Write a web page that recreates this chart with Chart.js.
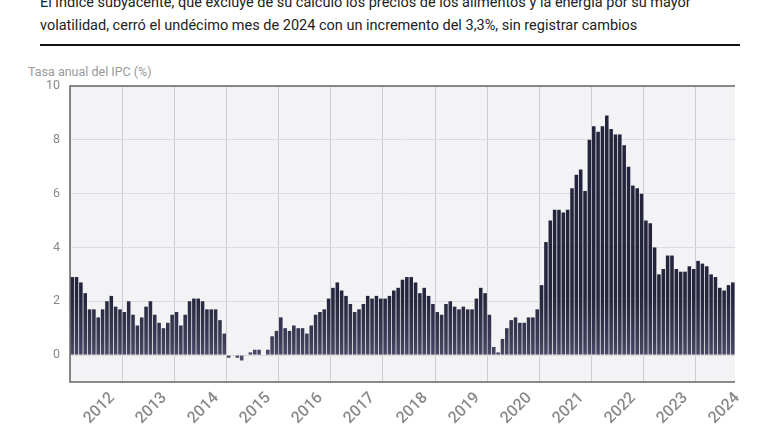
<!DOCTYPE html>
<html><head><meta charset="utf-8">
<script src="https://cdn.jsdelivr.net/npm/chart.js@4"></script>
<style>
body{margin:0;background:#fff;font-family:Roboto,"Noto Sans",sans-serif;}
#t{position:absolute;left:40px;top:-9px;width:720px;font-size:14.5px;line-height:23px;color:#222;}
#rule{position:absolute;left:40px;top:44px;width:700px;height:2px;background:#111;}
#yt{position:absolute;left:28px;top:64px;font-size:12.5px;color:#999;}
#c{position:absolute;left:0;top:0;}
.xl{position:absolute;font-size:16px;font-weight:500;color:#8a8a8a;transform-origin:100% 50%;transform:rotate(-45deg);white-space:nowrap;}
</style></head><body>
<div id="t">El índice subyacente, que excluye de su cálculo los precios de los alimentos y la energía por su mayor<br>volatilidad, cerró el undécimo mes de 2024 con un incremento del 3,3%, sin registrar cambios</div>
<div id="rule"></div>
<div id="yt">Tasa anual del IPC (%)</div>
<canvas id="c" width="780" height="440"></canvas>
<script>
const years=[2012,2013,2014,2015,2016,2017,2018,2019,2020,2021,2022,2023,2024];
const v2012=[2.9,2.9,2.7,2.3,1.7,1.7,1.4,1.7,2.0,2.2,1.8,1.7];
const v2013=[1.6,2.0,1.5,1.1,1.4,1.8,2.0,1.5,1.2,1.0,1.2,1.5];
const v2014=[1.6,1.1,1.5,2.0,2.1,2.1,2.0,1.7,1.7,1.7,1.3,0.8];
const v2015=[-0.1,0.0,-0.1,-0.2,0.0,0.1,0.2,0.2,0.0,0.2,0.7,0.9];
const v2016=[1.4,1.0,0.9,1.1,1.0,1.0,0.8,1.1,1.5,1.6,1.7,2.1];
const v2017=[2.5,2.7,2.4,2.2,1.9,1.6,1.7,1.9,2.2,2.1,2.2,2.1];
const v2018=[2.1,2.2,2.4,2.5,2.8,2.9,2.9,2.7,2.3,2.5,2.2,1.9];
const v2019=[1.6,1.5,1.9,2.0,1.8,1.7,1.8,1.7,1.7,2.1,2.5,2.3];
const v2020=[1.5,0.3,0.1,0.6,1.0,1.3,1.4,1.2,1.2,1.4,1.4,1.7];
const v2021=[2.6,4.2,5.0,5.4,5.4,5.3,5.4,6.2,6.7,6.9,6.1,8.0];
const v2022=[8.5,8.3,8.5,8.9,8.4,8.2,8.2,7.8,7.0,6.3,6.2,6.0];
const v2023=[5.0,4.9,4.0,3.0,3.2,3.7,3.7,3.2,3.1,3.1,3.3,3.2];
const v2024=[3.5,3.4,3.3,3.0,2.9,2.5,2.4,2.6,2.7];
const yTicks=[0,2,4,6,8,10];
const series=[v2012,v2013,v2014,v2015,v2016,v2017,v2018,v2019,v2020,v2021,v2022,v2023,v2024];
const values=[],labels=[];
series.forEach((a,i)=>a.forEach((v,m)=>{values.push(v);labels.push(years[i]+'-'+(m+1));}));
const bgPlugin={id:'bg',beforeDraw(ch){const a=ch.chartArea,c=ch.ctx;c.save();c.fillStyle='#f3f3f6';c.fillRect(a.left,a.top,a.width,a.height);c.restore();},
afterDraw(ch){const a=ch.chartArea,c=ch.ctx;c.save();c.strokeStyle='#666';c.lineWidth=1.5;c.beginPath();c.moveTo(a.right,a.top);c.lineTo(a.left,a.top);c.lineTo(a.left,a.bottom);c.lineTo(a.right,a.bottom);c.stroke();c.restore();}};
const chart=new Chart(document.getElementById('c'),{type:'bar',
data:{labels,datasets:[{data:values,barPercentage:0.82,categoryPercentage:1,
backgroundColor:(ctx)=>{const ch=ctx.chart,a=ch.chartArea;if(!a)return '#25253d';const y0=ch.scales.y.getPixelForValue(0);
const g=ch.ctx.createLinearGradient(0,y0-60,0,y0);g.addColorStop(0,'#24243c');g.addColorStop(0.7,'#3a3a55');g.addColorStop(1,'#4a4a66');return g;}}]},
options:{responsive:false,animation:false,layout:{padding:{left:0,right:45,top:86,bottom:0}},
plugins:{legend:{display:false},tooltip:{enabled:false}},
scales:{
x:{grid:{offset:true,color:(c)=>(c.index%12===0?'#ccccd2':'rgba(0,0,0,0)'),drawTicks:false},border:{display:false},
afterFit:(s)=>{s.height=58;},
ticks:{autoSkip:false,color:'rgba(0,0,0,0)',callback:()=>''}},
y:{min:-1,max:10,afterBuildTicks:(s)=>{s.ticks=yTicks.map(v=>({value:v}));},afterFit:(s)=>{s.width=70;},
grid:{color:'#dcdce0',drawTicks:false},border:{display:false},
ticks:{padding:10,color:'#888',font:{size:12.5,family:'Roboto'}}}}},
plugins:[bgPlugin]});
const xs=chart.scales.x,bottom=chart.chartArea.bottom;
labels.forEach((l,i)=>{if(i%12!==7)return;const d=document.createElement('div');d.className='xl';d.textContent=l.slice(0,4);
document.body.appendChild(d);const w=d.offsetWidth,h=d.offsetHeight;d.style.left=(xs.getPixelForValue(i)+8-w)+'px';d.style.top=(bottom+12-h/2)+'px';});
</script></body></html>
